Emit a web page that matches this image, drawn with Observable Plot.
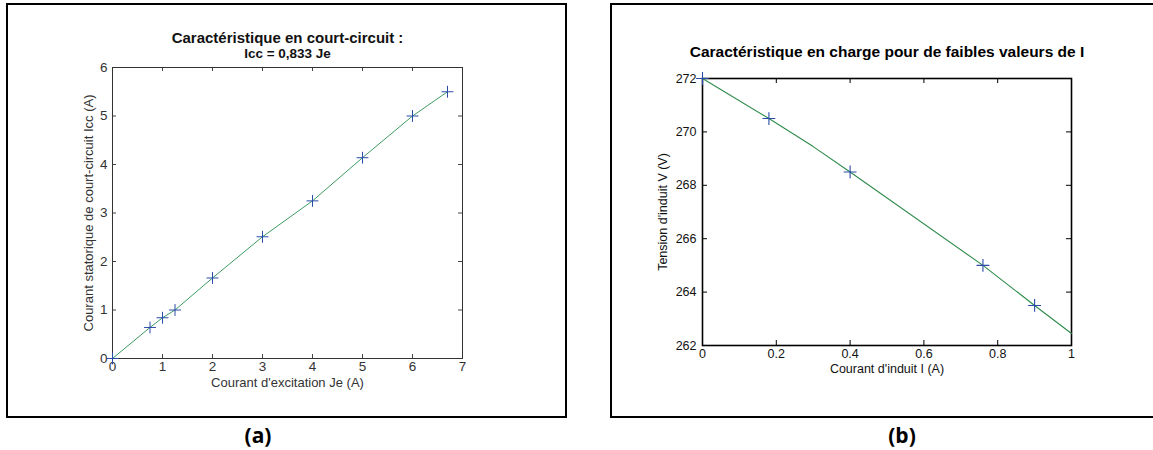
<!DOCTYPE html>
<html>
<head>
<meta charset="utf-8">
<script src="https://cdn.jsdelivr.net/npm/d3@7"></script>
<script src="https://cdn.jsdelivr.net/npm/@observablehq/plot@0.6"></script>
<style>
  html, body { margin: 0; padding: 0; background: #fff; overflow: hidden; }
  #page { position: relative; width: 1153px; height: 450px; overflow: hidden; font-family: "Liberation Sans", Arial, sans-serif; }
  .panel { position: absolute; box-sizing: border-box; border: 2px solid #000; }
  .plot { position: absolute; top: 0; }
  .cap { position: absolute; font-family: "Open Sans", "Noto Sans", sans-serif; font-weight: bold; font-size: 21px; transform: translate(-50%, -50%); white-space: nowrap; }
</style>
</head>
<body>
<div id="page">
  <div class="panel" style="left:6px; top:3px; width:561px; height:415px;"></div>
  <div class="panel" style="left:610px; top:3px; width:560px; height:415px;"></div>
  <div id="plotA" class="plot" style="left:0px;"></div>
  <div id="plotB" class="plot" style="left:580px;"></div>
  <div class="cap" style="left:258px; top:435px;">(a)</div>
  <div class="cap" style="left:902px; top:435px;">(b)</div>
</div>
<script>
// ---- Data: panel (a) short-circuit characteristic ----
const titleA1 = "Caractéristique en court-circuit :";
const titleA2 = "Icc = 0,833 Je";
const xLabelA = "Courant d'excitation Je (A)";
const yLabelA = "Courant statorique de court-circuit Icc (A)";
const jeValues  = [0, 0.75, 1, 1.25, 2, 3, 4, 5, 6, 6.7];
const iccValues = [0, 0.64, 0.84, 1.0, 1.66, 2.51, 3.25, 4.14, 5.0, 5.5];
const xTicksA = [0, 1, 2, 3, 4, 5, 6, 7];
const yTicksA = [0, 1, 2, 3, 4, 5, 6];

// ---- Data: panel (b) load characteristic ----
const titleB = "Caractéristique en charge pour de faibles valeurs de I";
const xLabelB = "Courant d'induit I (A)";
const yLabelB = "Tension d'induit V (V)";
const iValues = [0, 0.18, 0.4, 0.76, 0.9];
const vValues = [272, 270.5, 268.5, 265, 263.5];
const fitI = [0, 0.18, 0.3, 0.4, 0.76, 0.9, 1.0];
const fitV = [272, 270.5, 269.45, 268.5, 265, 263.5, 262.45];
const xTicksB = [0, 0.2, 0.4, 0.6, 0.8, 1];
const yTicksB = [262, 264, 266, 268, 270, 272];

const markerColor = "#2b4ba8";

// ---------- Panel (a) ----------
{
  const W = 580, H = 420, mL = 112, mR = 118, mT = 67, mB = 62;
  const pw = W - mL - mR, ph = H - mT - mB;
  const ptsA = jeValues.map((x, i) => ({x, y: iccValues[i]}));
  const tk = 4;
  const chart = Plot.plot({
    width: W, height: H,
    marginLeft: mL, marginRight: mR, marginTop: mT, marginBottom: mB,
    style: {fontFamily: "'Liberation Sans', Arial, sans-serif", fontSize: "13.5px", color: "#333", background: "transparent", overflow: "visible"},
    x: {domain: [0, 7]},
    y: {domain: [0, 6]},
    marks: [
      Plot.tickX(xTicksA, {x: d => d, insetTop: ph - tk, stroke: "#444"}),
      Plot.tickX(xTicksA, {x: d => d, insetBottom: ph - tk, stroke: "#444"}),
      Plot.tickY(yTicksA, {y: d => d, insetRight: pw - tk, stroke: "#444"}),
      Plot.tickY(yTicksA, {y: d => d, insetLeft: pw - tk, stroke: "#444"}),
      Plot.frame({stroke: "#333"}),
      Plot.axisX({ticks: xTicksA, tickSize: 0, tickPadding: 3, label: null, tickFormat: d => String(d)}),
      Plot.axisY({ticks: yTicksA, tickSize: 0, tickPadding: 5, label: null, tickFormat: d => String(d)}),
      Plot.line(ptsA, {x: "x", y: "y", stroke: "#3d9a63", strokeWidth: 1}),
      Plot.dot(ptsA, {x: "x", y: "y", symbol: "plus", r: 3.9, stroke: markerColor, strokeWidth: 1}),
      Plot.text([titleA1], {text: d => d, frameAnchor: "top", dy: -35, fontWeight: "bold", fontSize: 15, fill: "#111"}),
      Plot.text([titleA2], {text: d => d, frameAnchor: "top", dy: -19, fontWeight: "bold", fontSize: 13.5, fill: "#111"}),
      Plot.text([xLabelA], {text: d => d, frameAnchor: "bottom", dy: 28, fontSize: 13, fill: "#333"}),
      Plot.text([yLabelA], {text: d => d, frameAnchor: "left", dx: -24, rotate: -90, textAnchor: "middle", fontSize: 13, fill: "#333"})
    ]
  });
  document.getElementById("plotA").appendChild(chart);
}

// ---------- Panel (b) ----------
{
  const W = 573, H = 420, mL = 122, mR = 82, mT = 78, mB = 75;
  const pw = W - mL - mR, ph = H - mT - mB;
  const ptsB = iValues.map((x, i) => ({x, y: vValues[i]}));
  const fitB = fitI.map((x, i) => ({x, y: fitV[i]}));
  const tk = 5;
  const chart = Plot.plot({
    width: W, height: H,
    marginLeft: mL, marginRight: mR, marginTop: mT, marginBottom: mB,
    style: {fontFamily: "'Liberation Sans', Arial, sans-serif", fontSize: "12.5px", color: "#111", background: "transparent", overflow: "visible"},
    x: {domain: [0, 1]},
    y: {domain: [262, 272]},
    marks: [
      Plot.tickX(xTicksB, {x: d => d, insetTop: ph - tk, stroke: "#000"}),
      Plot.tickX(xTicksB, {x: d => d, insetBottom: ph - tk, stroke: "#000"}),
      Plot.tickY(yTicksB, {y: d => d, insetRight: pw - tk, stroke: "#000"}),
      Plot.tickY(yTicksB, {y: d => d, insetLeft: pw - tk, stroke: "#000"}),
      Plot.frame({stroke: "#000", strokeWidth: 1.6}),
      Plot.axisX({ticks: xTicksB, tickSize: 0, tickPadding: 4, label: null, tickFormat: d => String(d)}),
      Plot.axisY({ticks: yTicksB, tickSize: 0, tickPadding: 6, label: null, tickFormat: d => String(d)}),
      Plot.line(fitB, {x: "x", y: "y", stroke: "#2e8b4a", strokeWidth: 1.1}),
      Plot.dot(ptsB, {x: "x", y: "y", symbol: "plus", r: 4.2, stroke: markerColor, strokeWidth: 1.1}),
      Plot.text([titleB], {text: d => d, frameAnchor: "top", dy: -33, fontWeight: "bold", fontSize: 15.5, fill: "#000"}),
      Plot.text([xLabelB], {text: d => d, frameAnchor: "bottom", dy: 27, fontSize: 12.5, fill: "#111"}),
      Plot.text([yLabelB], {text: d => d, frameAnchor: "left", dx: -40, rotate: -90, textAnchor: "middle", fontSize: 12.5, fill: "#111"})
    ]
  });
  document.getElementById("plotB").appendChild(chart);
}
</script>
</body>
</html>
